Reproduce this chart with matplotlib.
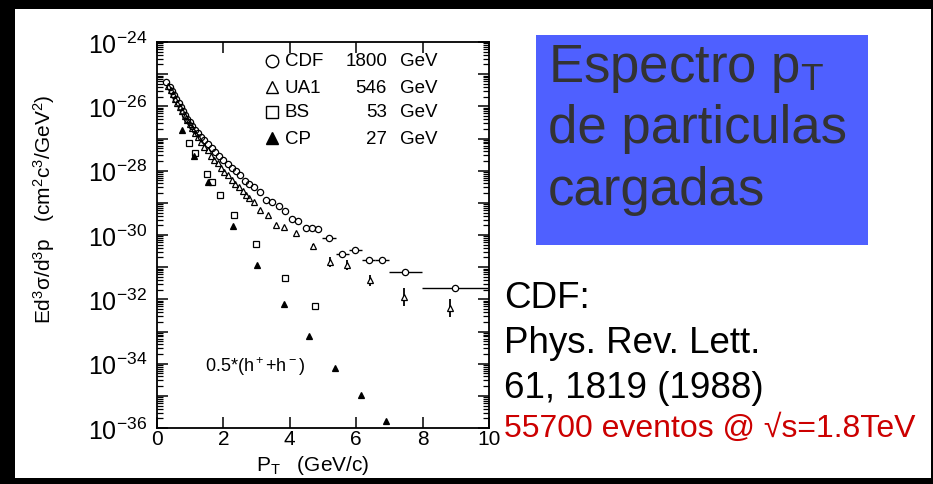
import numpy as np
import matplotlib
matplotlib.use('Agg')
import matplotlib.pyplot as plt
from matplotlib.patches import Rectangle

plt.rcParams['font.family'] = ['Liberation Sans', 'DejaVu Sans']
plt.rcParams['mathtext.fontset'] = 'custom'
plt.rcParams['mathtext.rm'] = 'Liberation Sans'
plt.rcParams['mathtext.it'] = 'Liberation Sans:italic'
plt.rcParams['mathtext.bf'] = 'Liberation Sans:bold'

# CDF 1800 GeV (open circles)
cdf_pt = [0.28, 0.38, 0.45, 0.51, 0.58, 0.65, 0.71, 0.78, 0.83, 0.91, 0.98, 1.06,
          1.15, 1.23, 1.33, 1.43, 1.53, 1.65, 1.75, 1.88, 2.00, 2.13, 2.25, 2.38,
          2.50, 2.65, 2.78, 2.93, 3.09, 3.29, 3.46, 3.66, 3.86, 4.06, 4.26, 4.50,
          4.66, 4.85]
cdf_y = [5.6e-26, 3.9e-26, 2.95e-26, 2.3e-26, 1.7e-26, 1.26e-26, 9.3e-27, 7.1e-27,
         5.5e-27, 4.1e-27, 3.2e-27, 2.4e-27, 1.86e-27, 1.45e-27, 1.1e-27, 8.7e-28,
         6.8e-28, 5.1e-28, 3.7e-28, 2.95e-28, 2.2e-28, 1.62e-28, 1.2e-28, 9.5e-29,
         7.4e-29, 4.7e-29, 3.9e-29, 3.2e-29, 2.1e-29, 1.26e-29, 1.05e-29, 7.9e-30,
         5.4e-30, 3.2e-30, 2.8e-30, 1.62e-30, 1.62e-30, 1.55e-30]
# CDF high pT bins with x errors
cdf_hi_pt = [5.18, 5.58, 5.97, 6.38, 6.78, 7.48, 8.98]
cdf_hi_y = [7.9e-31, 2.5e-31, 3.5e-31, 1.62e-31, 1.62e-31, 7.1e-32, 2.3e-32]
cdf_hi_xerr = [0.2, 0.2, 0.2, 0.2, 0.2, 0.5, 1.0]
cdf_hi_yerr_dec = [0.04, 0.08, 0.05, 0.06, 0.06, 0.06, 0.06]

# UA1 546 GeV (open triangles)
ua1_pt = [0.33, 0.41, 0.48, 0.55, 0.61, 0.68, 0.75, 0.83, 0.90, 0.98, 1.05, 1.13,
          1.23, 1.33, 1.43, 1.53, 1.63, 1.73, 1.83, 1.93, 2.03, 2.15, 2.25, 2.35,
          2.48, 2.58, 2.68, 2.78, 2.93, 3.09, 3.34, 3.59, 3.84, 4.19]
ua1_y = [4.4e-26, 3.2e-26, 2.4e-26, 1.7e-26, 1.26e-26, 9.3e-27, 7.1e-27, 5.1e-27,
         3.8e-27, 2.8e-27, 2.1e-27, 1.45e-27, 1.1e-27, 7.6e-28, 5.6e-28, 4.5e-28,
         2.95e-28, 2.1e-28, 1.7e-28, 1.23e-28, 8.9e-29, 7.1e-29, 5.1e-29, 3.9e-29,
         3.1e-29, 2.4e-29, 1.8e-29, 1.45e-29, 1.05e-29, 6.2e-30, 4.1e-30, 2.0e-30,
         1.8e-30, 1.17e-30]
ua1_hi_pt = [4.69, 5.22, 5.72, 6.42, 7.45, 8.82]
ua1_hi_y = [4.5e-31, 1.45e-31, 1.17e-31, 3.9e-32, 1.17e-32, 5.4e-33]
ua1_hi_yerr_dec = [0.08, 0.15, 0.15, 0.18, 0.27, 0.28]

# BS 53 GeV (open squares)
bs_pt = [0.97, 1.14, 1.51, 1.66, 1.90, 2.33, 2.98, 3.86, 4.75]
bs_y = [7.1e-28, 3.5e-28, 7.9e-29, 4.5e-29, 1.78e-29, 4.2e-30, 5.2e-31, 4.6e-32, 6.0e-33]

# CP 27 GeV (filled triangles)
cp_pt = [0.74, 1.12, 1.54, 2.29, 3.01, 3.84, 4.59, 5.37, 6.14, 6.90]
cp_y = [1.86e-27, 2.8e-28, 4.6e-29, 1.9e-30, 1.17e-31, 7.1e-33, 7.1e-34, 7.6e-35,
        1.05e-35, 1.66e-36]

legend_rows = [('o', 'none', 'CDF', '1800'),
               ('^', 'none', 'UA1', '546'),
               ('s', 'none', 'BS', '53'),
               ('^', 'black', 'CP', '27')]

y_exponents = list(range(-36, -23))


def dec_err(y, d):
    y = np.array(y)
    d = np.array(d)
    return [y - y / 10**d, y * 10**d - y]


fig = plt.figure(figsize=(9.33, 4.85), dpi=100)
fig.patch.set_facecolor('black')
fig.add_artist(Rectangle((15/933, 1-479/485), (931-15)/933, (479-10)/485,
                         transform=fig.transFigure, facecolor='white',
                         edgecolor='none', zorder=-10))

ax = fig.add_axes([157/933, 1-429/485, 332/933, 386/485])
ax.set_facecolor('white')
ms = 4.5
kw = dict(color='black', mec='black', mew=0.9, ms=ms, ls='none')
ax.plot(cdf_pt, cdf_y, marker='o', mfc='none', **kw)
ax.plot(ua1_pt, ua1_y, marker='^', mfc='none', **kw)
ax.plot(bs_pt, bs_y, marker='s', mfc='none', **kw)
ax.plot(cp_pt, cp_y, marker='^', mfc='black', **kw)
ax.errorbar(cdf_hi_pt, cdf_hi_y, xerr=cdf_hi_xerr, yerr=dec_err(cdf_hi_y, cdf_hi_yerr_dec),
            fmt='o', mfc='white', mec='black', ecolor='black', elinewidth=1.0,
            mew=0.9, ms=ms, capsize=0)
ax.errorbar(ua1_hi_pt, ua1_hi_y, yerr=dec_err(ua1_hi_y, ua1_hi_yerr_dec),
            fmt='^', mfc='white', mec='black', ecolor='black', elinewidth=1.3,
            mew=0.9, ms=ms, capsize=0)

ax.set_yscale('log')
ax.set_xlim(0, 10)
ax.set_ylim(1e-36, 1e-24)
ax.set_xticks([0, 2, 4, 6, 8, 10])
ax.set_xticklabels(['0', '2', '4', '6', '8', '10'], fontsize=15)
ax.set_yticks([10.0**e for e in y_exponents])
ax.set_yticklabels([r'$10^{%d}$' % e if e % 2 == 0 else '' for e in y_exponents])
ax.yaxis.set_minor_locator(matplotlib.ticker.LogLocator(base=10, subs=np.arange(2, 10), numticks=20))
ax.yaxis.set_minor_formatter(matplotlib.ticker.NullFormatter())
ax.tick_params(axis='y', which='major', labelsize=18, pad=7)
ax.tick_params(which='both', direction='in', top=True, right=True, width=1.1)
ax.tick_params(which='major', length=8)
ax.tick_params(which='minor', length=4, width=0.9)
ax.tick_params(axis='x', pad=1)
for s in ax.spines.values():
    s.set_linewidth(1.3)

ax.set_xlabel('P$_\\mathregular{T}$   (GeV/c)', fontsize=15)
ax.xaxis.set_label_coords(0.47, -0.065)
ax.set_ylabel('Ed$^3$σ/d$^3$p   (cm$^2$c$^3$/GeV$^2$)', fontsize=15)
ax.yaxis.set_label_coords(-0.30, 0.57)

# legend drawn as text rows
row_y = [0.951, 0.883, 0.819, 0.751]
for (mk, fc, name, energy), yy in zip(legend_rows, row_y):
    ax.plot([0.346], [yy], marker=mk, mfc=fc, mec='black', mew=1.0, ms=9,
            transform=ax.transAxes, clip_on=False)
    ax.text(0.385, yy, name, transform=ax.transAxes, fontsize=13.5, va='center')
    ax.text(0.693, yy, energy, transform=ax.transAxes, fontsize=13.5, va='center', ha='right')
    ax.text(0.732, yy, 'GeV', transform=ax.transAxes, fontsize=13.5, va='center')

ax.text(1.45, 8.7e-35, '0.5*(h$^+$+h$^-$)', fontsize=13, va='center')

# blue title box
fig.add_artist(Rectangle((536/933, 1-246/485), (868-536)/933, (246-36)/485,
                         transform=fig.transFigure, facecolor='#4F60FF',
                         edgecolor='none'))
title_lines = ['Espectro p$_\\mathregular{T}$', 'de particulas', 'cargadas']
for line, by in zip(title_lines, [82, 143, 205]):
    fig.text(548/933, 1-by/485, line, fontsize=38, color='#333333', va='baseline')

ref_lines = ['CDF:', 'Phys. Rev. Lett.', '61, 1819 (1988)']
for line, by in zip(ref_lines, [308, 353, 398]):
    fig.text(504/933, 1-by/485, line, fontsize=26.5, color='black', va='baseline')
fig.text(504/933, 1-437/485, '55700 eventos @ √s=1.8TeV', fontsize=23,
         color='#CC0000', va='baseline')

fig.savefig('out.png', dpi=100)
